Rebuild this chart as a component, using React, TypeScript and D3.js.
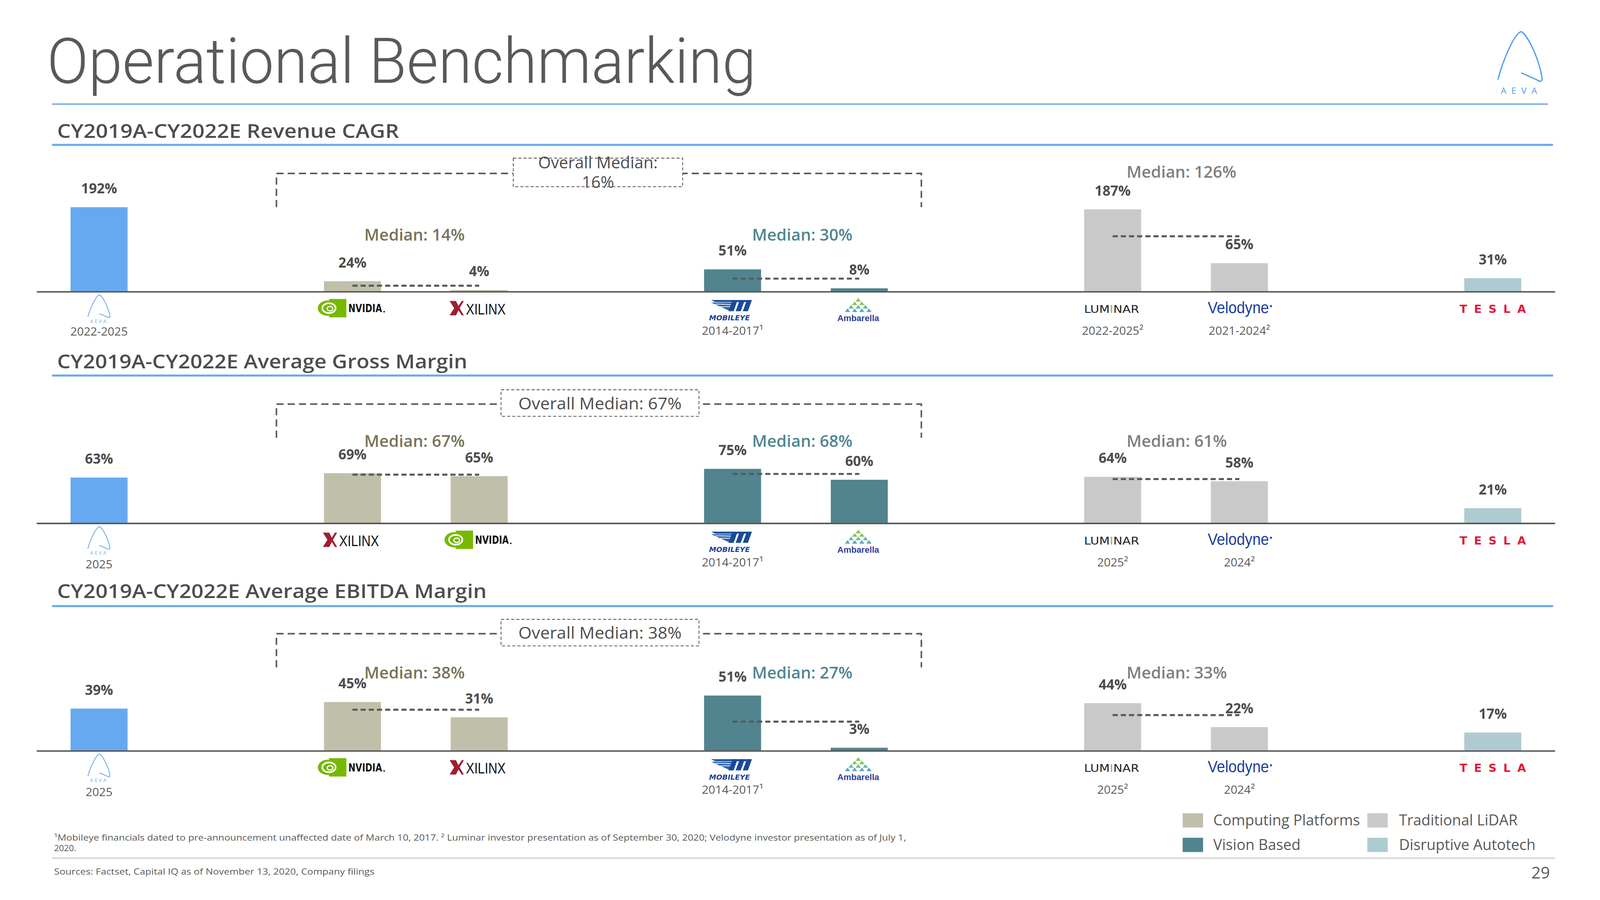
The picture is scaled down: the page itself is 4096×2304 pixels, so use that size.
import React from 'react'
import * as d3 from 'd3'

// layout is drawn in a 1568 x 882 box and scaled up to the 4096 x 2304 window
const W = 1568
const H = 882

const slotKeys = ['aeva', 'gapA', 'comp1', 'comp2', 'gapB', 'vis1', 'vis2', 'gapC', 'lid1', 'lid2', 'gapD', 'dis']
const barSlots = ['aeva', 'comp1', 'comp2', 'vis1', 'vis2', 'lid1', 'lid2', 'dis']
const barGroups = ['aeva', 'computing', 'computing', 'vision', 'vision', 'lidar', 'lidar', 'disruptive']
const medianGroups = ['computing', 'vision', 'lidar']

const sectionTitles = [
    'CY2019A-CY2022E Revenue CAGR',
    'CY2019A-CY2022E Average Gross Margin',
    'CY2019A-CY2022E Average EBITDA Margin',
]

const revenueCompanies = ['AEVA', 'NVIDIA', 'XILINX', 'Mobileye', 'Ambarella', 'Luminar', 'Velodyne', 'Tesla']
const grossCompanies = ['AEVA', 'XILINX', 'NVIDIA', 'Mobileye', 'Ambarella', 'Luminar', 'Velodyne', 'Tesla']
const ebitdaCompanies = ['AEVA', 'NVIDIA', 'XILINX', 'Mobileye', 'Ambarella', 'Luminar', 'Velodyne', 'Tesla']

const revenueValues = [192, 24, 4, 51, 8, 187, 65, 31]
const grossValues = [63, 69, 65, 75, 60, 64, 58, 21]
const ebitdaValues = [39, 45, 31, 51, 3, 44, 22, 17]

const revenueMedians = [14, 30, 126]
const grossMedians = [67, 68, 61]
const ebitdaMedians = [38, 27, 33]
const overallMedians = [16, 67, 38]

const revenuePeriods = ['2022-2025', '', '', '2014-2017¹', '', '2022-2025²', '2021-2024²', '']
const grossPeriods = ['2025', '', '', '2014-2017¹', '', '2025²', '2024²', '']
const ebitdaPeriods = ['2025', '', '', '2014-2017¹', '', '2025²', '2024²', '']

const legendLabels = ['Computing Platforms', 'Traditional  LiDAR', 'Vision Based', 'Disruptive Autotech']
const legendGroups = ['computing', 'lidar', 'vision', 'disruptive']

const footnote1 =
    '¹Mobileye financials dated to pre-announcement unaffected date of March 10, 2017. ² Luminar investor presentation as of September 30, 2020; Velodyne investor presentation as of July 1,'
const footnote2 = '2020.'
const sourcesNote = 'Sources: Factset, Capital IQ as of November 13, 2020, Company filings'

const groupColors: Record<string, string> = {
    aeva: '#67A9F0',
    computing: '#C0BFAA',
    vision: '#51848E',
    lidar: '#C9C9C9',
    disruptive: '#AFCBD2',
}
const medianColors: Record<string, string> = {
    computing: '#77745A',
    vision: '#4E8792',
    lidar: '#808080',
}

const sections = [
    { title: sectionTitles[0], companies: revenueCompanies, values: revenueValues, medians: revenueMedians, overall: overallMedians[0], periods: revenuePeriods },
    { title: sectionTitles[1], companies: grossCompanies, values: grossValues, medians: grossMedians, overall: overallMedians[1], periods: grossPeriods },
    { title: sectionTitles[2], companies: ebitdaCompanies, values: ebitdaValues, medians: ebitdaMedians, overall: overallMedians[2], periods: ebitdaPeriods },
]

// per-panel geometry
const panels = [
    { axisY: 286, headY: 135, ruleY: 142, h100: 43.2, bracketY: 170, box: { x: 503, y: 155, w: 166, h: 28 }, twoLine: true, medianY: [236, 236, 174], headW: 335, aevaDy: 43 },
    { axisY: 513, headY: 361, ruleY: 368, h100: 71.4, bracketY: 396, box: { x: 491, y: 382, w: 194, h: 26 }, twoLine: false, medianY: [438, 438, 438], headW: 402, aevaDy: 44 },
    { axisY: 736, headY: 586, ruleY: 594, h100: 106.6, bracketY: 621, box: { x: 491, y: 607, w: 194, h: 26 }, twoLine: false, medianY: [665, 665, 665], headW: 421, aevaDy: 44 },
]
const medianLabelX = [357, 737, 1104]

const DARK = '#4D4D4D'
const GREY = '#595959'
const FONT = "'Open Sans', 'DejaVu Sans', sans-serif"

// AEVA mark, drawn inside a box
const aevaPath = (x0: number, y0: number, w: number, h: number) => {
    const p = (u: number, v: number) => `${x0 + u * w},${y0 + v * h}`
    return `M${p(0, 0.98)} C${p(0.12, 0.55)} ${p(0.38, 0.02)} ${p(0.52, 0)} C${p(0.64, 0.05)} ${p(0.9, 0.5)} ${p(0.98, 0.93)} C${p(1.0, 1.02)} ${p(0.92, 1.03)} ${p(0.88, 0.99)} L${p(0.52, 0.84)}`
}

const Logo: React.FC<{ name: string; cx: number; cy: number }> = ({ name, cx, cy }) => {
    if (name === 'AEVA') {
        return (
            <g>
                <path d={aevaPath(cx - 11, cy - 13, 22, 22)} fill="none" stroke="#67A9F0" strokeWidth={0.8} />
                <text x={cx} y={cy + 14.5} textAnchor="middle" fontSize={4.5} letterSpacing={1.6} fill="#67A9F0" fontFamily={FONT}>
                    AEVA
                </text>
            </g>
        )
    }
    if (name === 'NVIDIA') {
        return (
            <g>
                <rect x={cx - 23} y={cy - 9} width={17} height={18} fill="#76B900" />
                <ellipse cx={cx - 24} cy={cy} rx={10} ry={7.5} fill="#76B900" />
                <ellipse cx={cx - 23} cy={cy} rx={6.5} ry={4.8} fill="none" stroke="#fff" strokeWidth={1.6} />
                <ellipse cx={cx - 22} cy={cy + 0.5} rx={2.8} ry={2.2} fill="none" stroke="#fff" strokeWidth={1.2} />
                <text x={cx - 4} y={cy + 4} fontSize={11} fontWeight={800} fill="#111" textLength={33} lengthAdjust="spacingAndGlyphs" fontFamily="'DejaVu Sans', sans-serif">
                    NVIDIA
                </text>
                <circle cx={cx + 31} cy={cy + 3.5} r={0.8} fill="#111" />
            </g>
        )
    }
    if (name === 'XILINX') {
        const x0 = cx - 29
        const y0 = cy - 7
        const s = (u: number, v: number) => `${x0 + u * 14},${y0 + v * 14}`
        return (
            <g>
                <path
                    d={`M${s(0, 0)} L${s(0.45, 0)} L${s(0.62, 0.35)} L${s(0.85, 0)} L${s(1, 0)} L${s(0.7, 0.5)} L${s(1, 1)} L${s(0.85, 1)} L${s(0.62, 0.65)} L${s(0.45, 1)} L${s(0, 1)} L${s(0.32, 0.5)} Z`}
                    fill="#9E1F32"
                />
                <text x={cx - 13} y={cy + 6} fontSize={15} fill="#111" textLength={39} lengthAdjust="spacingAndGlyphs" fontFamily="'Liberation Sans Narrow', 'Liberation Sans', sans-serif">
                    XILINX
                </text>
            </g>
        )
    }
    if (name === 'Mobileye') {
        const top = cy - 8
        const bot = cy + 3
        const bars = [0, 1, 2].map((i) => {
            const x0 = cx - 4 + i * 7
            return `M${x0 + 4},${top} L${x0 + 9},${top} L${x0 + 5},${bot} L${x0},${bot} Z`
        })
        return (
            <g>
                <path d={`M${cx - 21},${top} L${cx + 17},${top} L${cx + 16},${top + 2} L${cx - 17},${top + 2} Z`} fill="#1F4E9E" />
                <path d={`M${cx - 21},${top + 2.5} L${cx + 1},${top + 2.5} L${cx - 2},${bot} Z`} fill="#2A62B3" />
                <line x1={cx - 17} y1={top + 4} x2={cx} y2={top + 4.5} stroke="#fff" strokeWidth={0.7} />
                <line x1={cx - 12} y1={top + 6.5} x2={cx - 1} y2={top + 6.5} stroke="#fff" strokeWidth={0.7} />
                {bars.map((d, i) => (
                    <path key={i} d={d} fill="#1B4A98" />
                ))}
                <text x={cx - 3} y={cy + 12} textAnchor="middle" fontSize={6.5} fontStyle="italic" fontWeight={800} fill="#1B3F8F" textLength={40} lengthAdjust="spacingAndGlyphs" fontFamily="'DejaVu Sans', sans-serif">
                    MOBILEYE
                </text>
            </g>
        )
    }
    if (name === 'Ambarella') {
        const rowColors = ['#8CC84B', '#84C466', '#6FB99D', '#5AA8C0']
        const dots: JSX.Element[] = []
        rowColors.forEach((c, r) => {
            for (let k = 0; k <= r; k++) {
                const dx = cx - 1 + (k - r / 2) * 7
                const dy = cy - 8 + r * 3.4
                dots.push(<path key={`${r}-${k}`} d={`M${dx},${dy - 2} L${dx + 2.6},${dy + 1.6} L${dx - 2.6},${dy + 1.6} Z`} fill={c} />)
            }
        })
        return (
            <g>
                {dots}
                <text x={cx - 1} y={cy + 12.5} textAnchor="middle" fontSize={8.5} fontWeight={600} fill="#2E3D99" textLength={41} lengthAdjust="spacingAndGlyphs" fontFamily="'Liberation Sans', sans-serif">
                    Ambarella
                </text>
            </g>
        )
    }
    if (name === 'Luminar') {
        return (
            <text x={cx - 1} y={cy + 4.5} textAnchor="middle" fontSize={10.5} fill="#222" textLength={54} lengthAdjust="spacingAndGlyphs" fontFamily="'DejaVu Sans', sans-serif">
                LUM<tspan fill="#C9A04A">I</tspan>NAR
            </text>
        )
    }
    if (name === 'Velodyne') {
        return (
            <g>
                <text x={cx - 1} y={cy + 5} textAnchor="middle" fontSize={16} fill="#1B3E9C" textLength={60} lengthAdjust="spacingAndGlyphs" fontFamily="'Liberation Sans Narrow', 'Liberation Sans', sans-serif">
                    Velodyne
                </text>
                <circle cx={cx + 31} cy={cy - 2} r={1} fill="#1B3E9C" />
            </g>
        )
    }
    // Tesla wordmark
    return (
        <text x={cx} y={cy + 4.5} textAnchor="middle" fontSize={11} fontWeight={700} fill="#E31937" textLength={65} lengthAdjust="spacing" fontFamily="'DejaVu Sans', sans-serif">
            TESLA
        </text>
    )
}

const App: React.FC = () => {
    const x = d3.scalePoint<string>().domain(slotKeys).range([35, 1525]).padding(0.5)
    const barW = x.step() * 0.45

    return (
        <svg
            width={4096}
            height={2304}
            viewBox={`0 0 ${W} ${H}`}
            style={{ position: 'absolute', left: 0, top: 0, background: '#fff' }}
            fontFamily={FONT}
        >
            <rect x={0} y={0} width={W} height={H} fill="#fff" />

            {/* page title and brand */}
            <text x={46} y={81} fontSize={62} fontWeight={300} fill={GREY} textLength={695} lengthAdjust="spacingAndGlyphs" fontFamily="Roboto, 'Open Sans', sans-serif">
                Operational Benchmarking
            </text>
            <line x1={51} x2={1517} y1={102} y2={102} stroke="#7BAFE8" strokeWidth={1.5} />
            <path d={aevaPath(1468, 31, 44, 48)} fill="none" stroke="#4A9BF0" strokeWidth={1.2} />
            <text x={1491} y={92} textAnchor="middle" fontSize={8.5} letterSpacing={5} fill="#4A9BF0" fontFamily={FONT}>
                AEVA
            </text>

            {sections.map((sec, si) => {
                const pn = panels[si]
                const y = d3.scaleLinear().domain([0, 100]).range([pn.axisY, pn.axisY - pn.h100])
                const left = (x('comp1') ?? 0) - 0.6 * x.step()
                const right = (x('vis2') ?? 0) + 0.49 * x.step()
                const bTop = pn.bracketY
                const bBot = pn.bracketY + 33
                return (
                    <g key={si}>
                        <text x={56} y={pn.headY} fontSize={18.5} fontWeight={600} fill={DARK} textLength={pn.headW} lengthAdjust="spacingAndGlyphs">
                            {sec.title}
                        </text>
                        <line x1={51} x2={1522} y1={pn.ruleY} y2={pn.ruleY} stroke="#6AA9F0" strokeWidth={2} />

                        {/* overall median bracket */}
                        <path
                            d={`M${left},${bBot} V${bTop} H${right} V${bBot}`}
                            fill="none"
                            stroke={GREY}
                            strokeWidth={1.5}
                            strokeDasharray="7 4"
                        />
                        <rect x={pn.box.x} y={pn.box.y} width={pn.box.w} height={pn.box.h} fill="#fff" stroke={GREY} strokeWidth={0.8} strokeDasharray="3 2" />
                        {pn.twoLine ? (
                            <text x={pn.box.x + pn.box.w / 2} textAnchor="middle" fontSize={16} fill={DARK}>
                                <tspan x={pn.box.x + pn.box.w / 2} y={165}>Overall Median:</tspan>
                                <tspan x={pn.box.x + pn.box.w / 2} y={184}>{`${sec.overall}%`}</tspan>
                            </text>
                        ) : (
                            <text x={pn.box.x + pn.box.w / 2} y={pn.box.y + 19} textAnchor="middle" fontSize={16} fill={DARK} textLength={160} lengthAdjust="spacingAndGlyphs">
                                {`Overall Median: ${sec.overall}%`}
                            </text>
                        )}

                        {/* bars */}
                        {sec.values.map((v, i) => {
                            const cx = x(barSlots[i]) ?? 0
                            return (
                                <rect key={`b${i}`} x={cx - barW / 2} y={y(v)} width={barW} height={pn.axisY - y(v)} fill={groupColors[barGroups[i]]} />
                            )
                        })}
                        <line x1={36} x2={1524} y1={pn.axisY} y2={pn.axisY} stroke={GREY} strokeWidth={1.5} />

                        {/* group medians */}
                        {sec.medians.map((m, gi) => {
                            const g = medianGroups[gi]
                            const idx = barGroups.indexOf(g)
                            const x1 = x(barSlots[idx]) ?? 0
                            const x2 = x(barSlots[idx + 1]) ?? 0
                            return (
                                <g key={`m${gi}`}>
                                    <line x1={x1} x2={x2} y1={y(m)} y2={y(m)} stroke={GREY} strokeWidth={2} strokeDasharray="5 3" />
                                    <text x={medianLabelX[gi]} y={pn.medianY[gi]} fontSize={16} fontWeight={600} fill={medianColors[g]}>
                                        {`Median: ${m}%`}
                                    </text>
                                </g>
                            )
                        })}

                        {/* value labels, logos, periods */}
                        {sec.values.map((v, i) => {
                            const cx = x(barSlots[i]) ?? 0
                            return (
                                <g key={`l${i}`}>
                                    <text x={cx} y={y(v) - 13.5} textAnchor="middle" fontSize={13.5} fontWeight={700} fill={DARK}>
                                        {`${v}%`}
                                    </text>
                                    <Logo name={sec.companies[i]} cx={cx} cy={pn.axisY + 16} />
                                    {sec.periods[i] && (
                                        <text x={cx} y={pn.axisY + (i === 0 ? pn.aevaDy : 42)} textAnchor="middle" fontSize={11.5} fill={GREY}>
                                            {sec.periods[i]}
                                        </text>
                                    )}
                                </g>
                            )
                        })}
                    </g>
                )
            })}

            {/* legend */}
            {legendLabels.map((lab, i) => {
                const col = i % 2
                const row = Math.floor(i / 2)
                const lx = col === 0 ? 1159 : 1340
                const ly = row === 0 ? 797 : 821
                return (
                    <g key={lab}>
                        <rect x={lx} y={ly} width={20} height={14} fill={groupColors[legendGroups[i]]} />
                        <text x={lx + (col === 0 ? 30 : 31)} y={ly + 12} fontSize={14.5} fill={GREY}>
                            {lab}
                        </text>
                    </g>
                )
            })}

            {/* footnotes */}
            <text x={53} y={824} fontSize={8.5} fill={GREY} textLength={835} lengthAdjust="spacingAndGlyphs">
                {footnote1}
            </text>
            <text x={53} y={834} fontSize={8.5} fill={GREY}>
                {footnote2}
            </text>
            <line x1={51} x2={1524} y1={841} y2={841} stroke="#D4D4D4" strokeWidth={1.4} />
            <text x={53} y={857} fontSize={8.5} fill={GREY} textLength={314} lengthAdjust="spacingAndGlyphs">
                {sourcesNote}
            </text>
            <text x={1519} y={861} textAnchor="end" fontSize={16} fill={GREY}>
                29
            </text>
        </svg>
    )
}

export default App
